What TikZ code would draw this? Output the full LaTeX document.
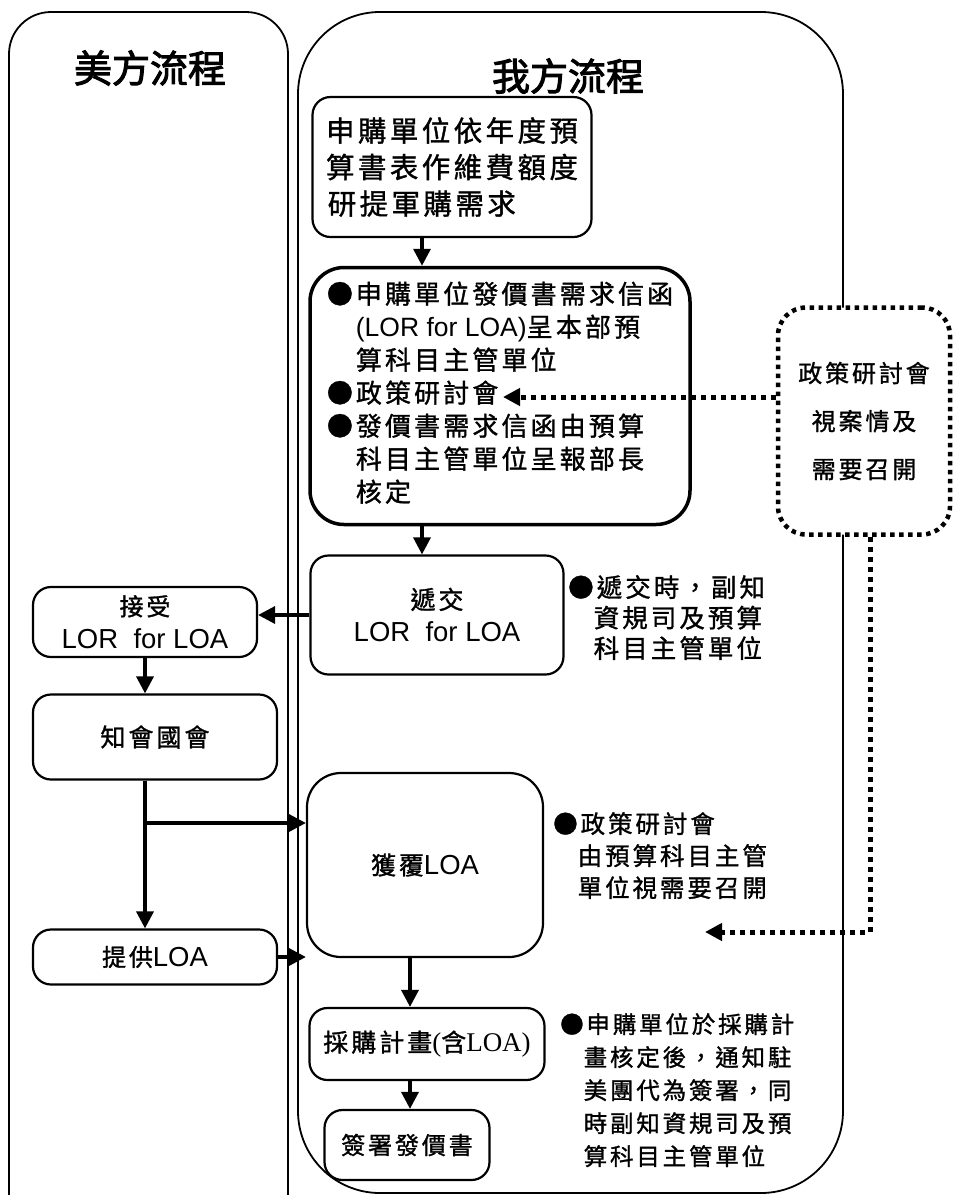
\documentclass[tikz,border=0pt]{standalone}
\usepackage{fontspec}
\usetikzlibrary{arrows.meta}
\newfontfamily\cjk[LetterSpace=12,FakeBold=1.2]{Noto Sans CJK TC}
\newfontfamily\cjktitle[FakeBold=2.5]{Noto Sans CJK TC}
\newfontfamily\lat{Liberation Sans}
\newfontfamily\latserif{Liberation Serif}
\newcommand{\ph}{\leavevmode\setbox0\hbox{●}\hspace*{\wd0}}
\begin{document}
\begin{tikzpicture}[x=1pt,y=-1pt,
  lane/.style={draw, line width=1.8pt},
  box/.style={draw, line width=2.2pt, rounded corners=18pt, fill=white, inner sep=0pt, align=center},
  arr/.style={line width=3.5pt, -{Triangle[length=17pt,width=17pt]}},
  dotline/.style={line width=5pt, dash pattern=on 5pt off 5pt},
  dotarr/.style={dotline, -{Triangle[length=17pt,width=17pt]}},
  note/.style={anchor=north west, inner sep=0pt, align=left}]
\useasboundingbox (0,0) rectangle (953,1195);
\fill[white] (0,0) rectangle (953,1195);
% lanes
\draw[lane, rounded corners=42pt] (9,1200) -- (9,12) -- (288,12) -- (288,1200);
\draw[lane, rounded corners=82pt] (298,1193) rectangle (843,12);
% titles
\node[font=\cjktitle\fontsize{38}{38}\selectfont] (t1) at (150,68) {美方流程};
\node[font=\cjktitle\fontsize{38}{38}\selectfont] (t2) at (568,76) {我方流程};
% right lane boxes
\node[box, minimum width=279pt, minimum height=140pt, font=\cjk\fontsize{28.5}{36.5}\selectfont] (b1) at (452,167)
  {申購單位依年度預\\算書表作維費額度\\研提軍購需求\hphantom{依年}};
\node[draw, line width=3.5pt, rounded corners=34pt, fill=white, inner sep=0pt, minimum width=380pt, minimum height=257pt, font=\cjk\fontsize{26}{33}\selectfont] (b2) at (500,396)
  {\begin{tabular}{@{}l@{\hspace{3pt}}l@{}}
   ● & 申購單位發價書需求信函\\
     & {\lat\fontsize{26.5}{33}\selectfont (LOR for LOA)}呈本部預\\
     & 算科目主管單位\\
   ● & 政策研討會\\
   ● & 發價書需求信函由預算\\
     & 科目主管單位呈報部長\\
     & 核定
   \end{tabular}};
\node[box, minimum width=253pt, minimum height=119pt, font=\cjk\fontsize{25}{33}\selectfont] (b3) at (437,615)
  {遞交\\{\lat\fontsize{27.5}{33}\selectfont LOR\ \ for LOA}};
\node[box, rounded corners=34pt, minimum width=236pt, minimum height=184pt, font=\cjk\fontsize{25}{33}\selectfont] (gain) at (425,865)
  {獲覆{\lat\fontsize{27.5}{33}\selectfont LOA}};
\node[box, minimum width=235pt, minimum height=72pt, font=\cjk\fontsize{25}{33}\selectfont] (plan) at (427,1044)
  {採購計畫{\latserif\fontsize{27}{33}\selectfont(}含{\latserif\fontsize{27}{33}\selectfont LOA)}};
\node[box, minimum width=165pt, minimum height=70pt, font=\cjk\fontsize{24}{33}\selectfont] (sign) at (407,1145)
  {簽署發價書};
% left lane boxes
\node[box, minimum width=224pt, minimum height=70pt, font=\cjk\fontsize{24}{33}\selectfont] (acc) at (145,622)
  {接受\\{\lat\fontsize{27.5}{33}\selectfont LOR\ \ for LOA}};
\node[box, minimum width=244pt, minimum height=85pt, font=\cjk\fontsize{25}{33}\selectfont] (ntf) at (155,737)
  {知會國會};
\node[box, minimum width=244pt, minimum height=55pt, font=\cjk\fontsize{24}{33}\selectfont] (prv) at (155,957)
  {提供{\lat\fontsize{27.5}{33}\selectfont LOA}};
% dotted box
\node[draw, fill=white, line width=4.5pt, dash pattern=on 4.5pt off 4.5pt, rounded corners=28pt, minimum width=172pt, minimum height=227pt, inner sep=0pt, align=center, font=\cjk\fontsize{24}{48}\selectfont] (dot) at (864,421)
  {政策研討會\\視案情及\\需要召開};
% notes
\node[note, font=\cjk\fontsize{25.5}{30.5}\selectfont] (n1) at (568,575)
  {●遞交時，副知\\\ph 資規司及預算\\\ph 科目主管單位};
\node[note, font=\cjk\fontsize{24.5}{32}\selectfont] (n2) at (553,812)
  {●政策研討會\\\ph 由預算科目主管\\\ph 單位視需要召開};
\node[note, font=\cjk\fontsize{23.5}{33}\selectfont] (n3) at (560,1013)
  {●申購單位於採購計\\\ph 畫核定後，通知駐\\\ph 美團代為簽署，同\\\ph 時副知資規司及預\\\ph 算科目主管單位};
% connectors
\draw[arr] ([xshift=-30pt]b1.south) -- ([xshift=-30pt]b1.south |- b2.north);
\draw[arr] ([xshift=-78pt]b2.south) -- ([xshift=-78pt]b2.south |- b3.north);
\draw[arr] (b3.west) -- (b3.west -| acc.east);
\draw[arr] (acc.south) -- (acc.south |- ntf.north);
\draw[arr] ([xshift=-10pt]ntf.south) -- ([xshift=-10pt]ntf.south |- prv.north);
\coordinate (br) at (145,823);
\draw[arr] (br) -- (br -| gain.west);
\draw[arr] (prv.east) -- (prv.east -| gain.west);
\draw[arr] ([xshift=-15pt]gain.south) -- ([xshift=-15pt]gain.south |- plan.north);
\draw[arr] ([xshift=-17pt]plan.south) -- ([xshift=-17pt]plan.south |- sign.north);
\coordinate (tip1) at (503,397);
\draw[dotarr] (dot.west |- tip1) -- (tip1);
\coordinate (cnr) at (870,932);
\coordinate (tip2) at (705,932);
\draw[dotarr] (cnr |- dot.south) -- (cnr) -- (tip2);
\end{tikzpicture}
\end{document}
